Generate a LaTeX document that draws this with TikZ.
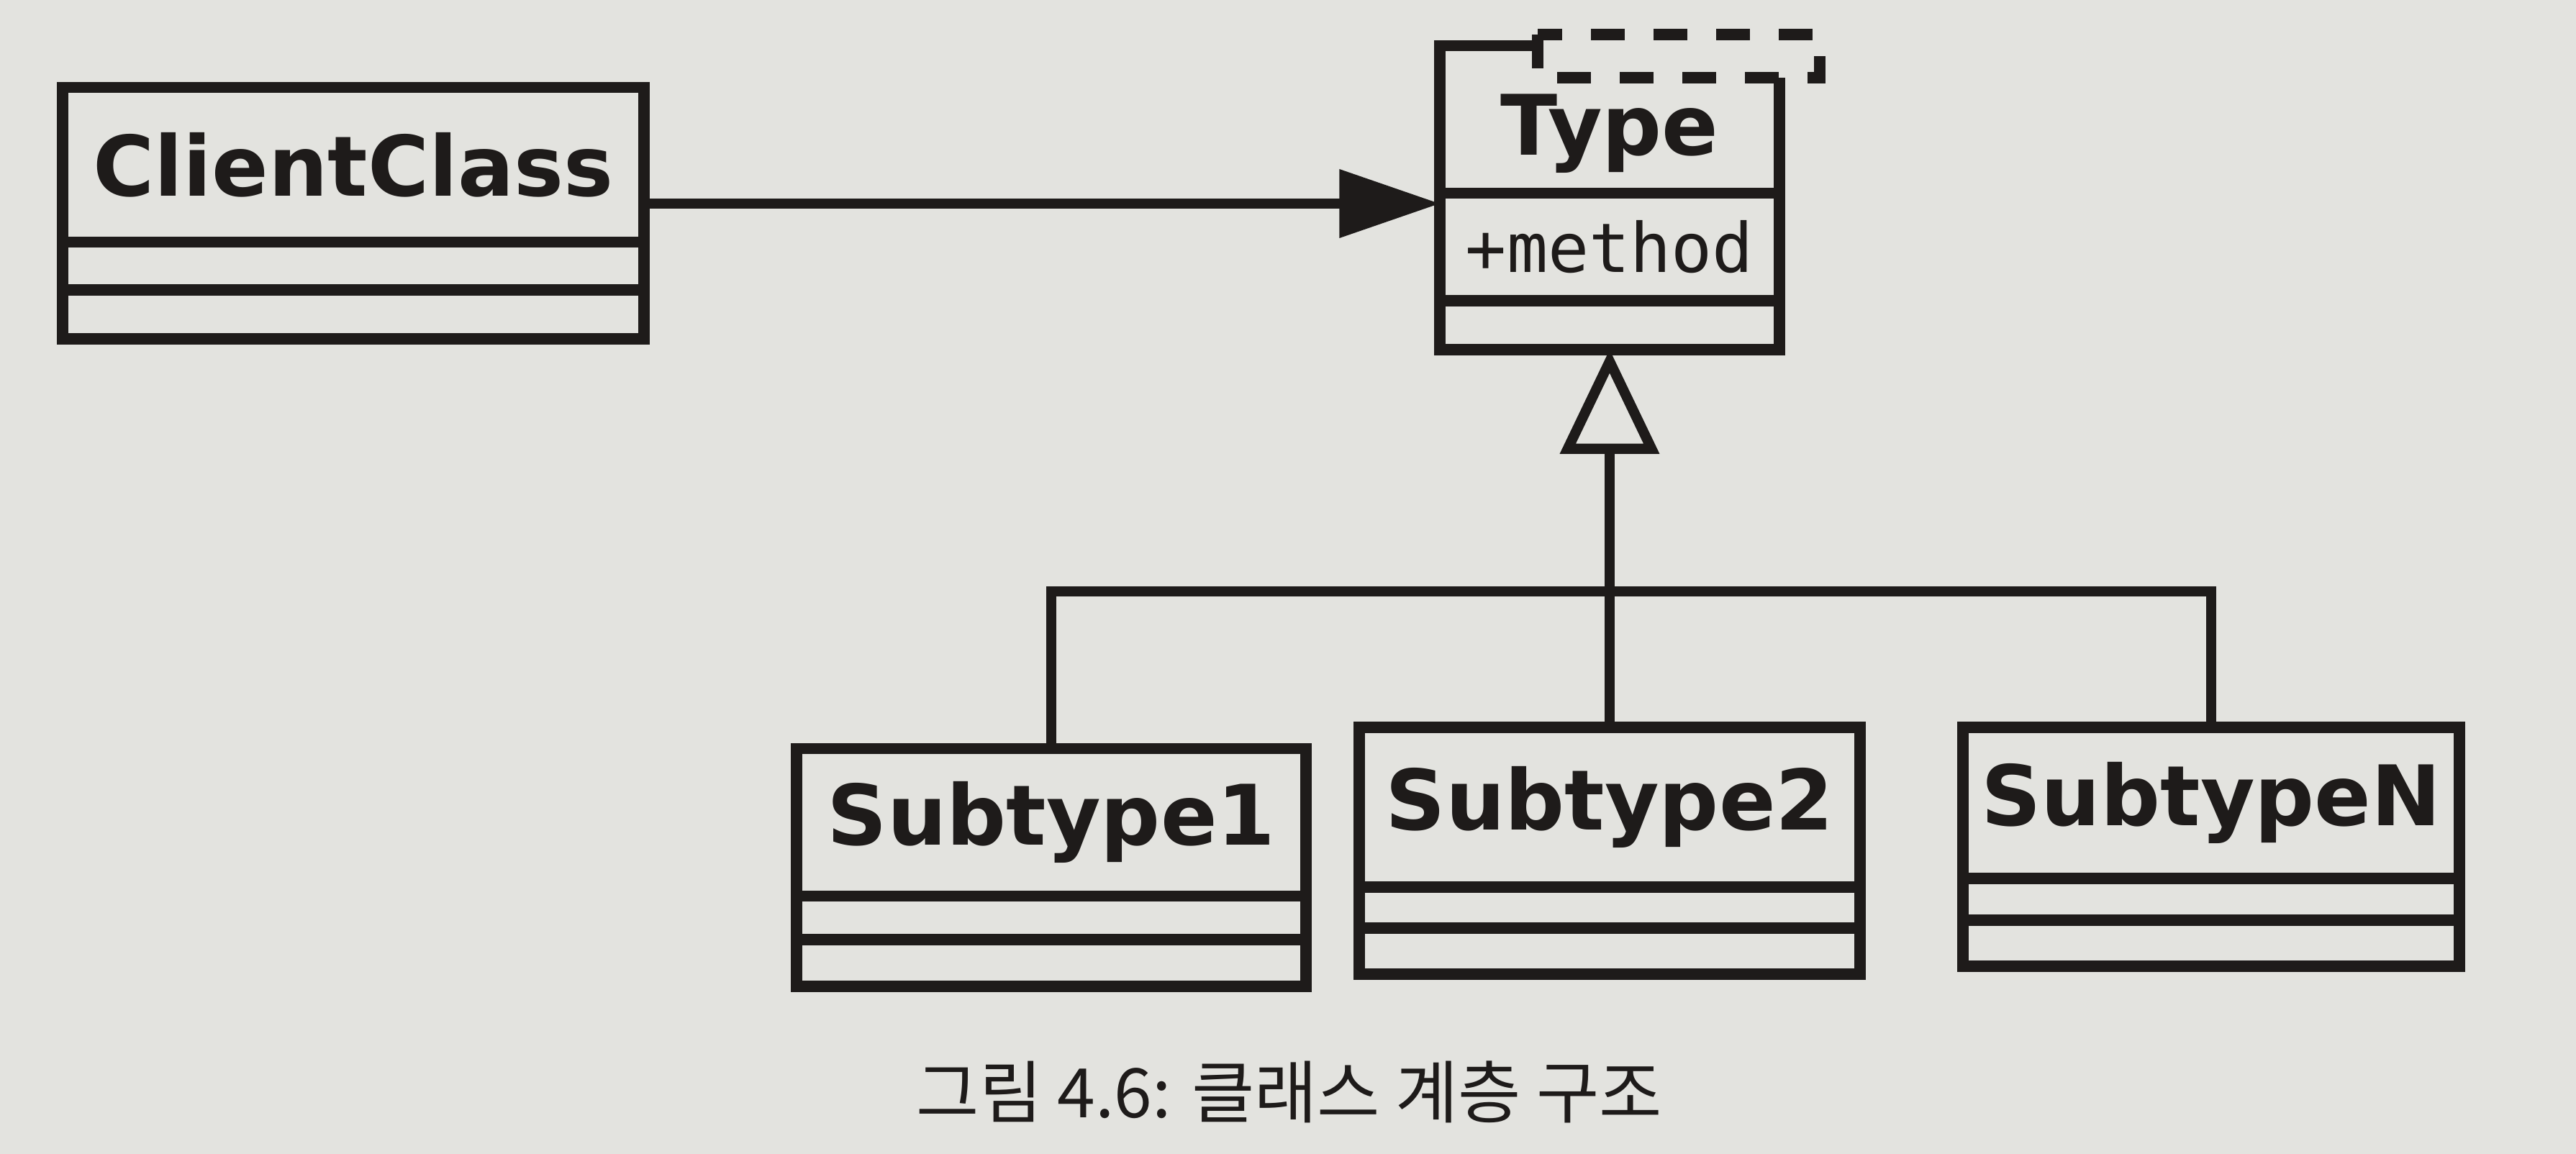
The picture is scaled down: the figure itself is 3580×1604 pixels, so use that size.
\documentclass[tikz,border=0pt]{standalone}
\usepackage{fontspec}
\setmainfont{DejaVu Sans}
\setmonofont{DejaVu Sans Mono}
\newfontfamily\cjk{Noto Sans CJK KR}
\usetikzlibrary{arrows.meta}
\definecolor{paper}{HTML}{E3E3DF}
\definecolor{ink}{HTML}{1E1B1A}

\begin{document}
\begin{tikzpicture}[x=0.01cm, y=-0.01cm]
      \tikzset{namebox/.style = {shape=rectangle, draw=ink, fill=paper, line width=4.5pt, inner sep=0pt, outer sep=0pt, text=ink, font=\bfseries\fontsize{33}{36}\selectfont}}
      \tikzset{partbox/.style = {shape=rectangle, draw=ink, fill=paper, line width=4.5pt, inner sep=0pt, outer sep=0pt, text=ink, anchor=north}}
      \tikzset{edge/.style = {draw=ink, line width=4pt}}
      \useasboundingbox (0,0) rectangle (3580,1604);
      \fill[paper] (0,0) rectangle (3580,1604);

      % client
      \node[namebox, minimum width=8.08cm, minimum height=2.15cm] (c) at (491,229) {ClientClass};
      \node[partbox, minimum width=8.08cm, minimum height=0.66cm] (c1) at (c.south) {};
      \node[partbox, minimum width=8.08cm, minimum height=0.68cm] (c2) at (c1.south) {};

      % type with template box
      \node[namebox, minimum width=4.71cm, minimum height=2.05cm, text height=35pt] (t) at (2237,166) {Type};
      \node[partbox, minimum width=4.71cm, minimum height=1.49cm, font=\ttfamily\fontsize{27}{30}\selectfont] (t1) at (t.south) {+method};
      \node[partbox, minimum width=4.71cm, minimum height=0.68cm] (t2) at (t1.south) {};
      \draw[draw=ink, line width=4.5pt, fill=paper, dash pattern=on 0.47cm off 0.4cm] (2137,48) rectangle (2529,108);

      % subtypes
      \node[namebox, minimum width=7.08cm, minimum height=2.05cm] (a) at (1461,1143) {Subtype1};
      \node[partbox, minimum width=7.08cm, minimum height=0.6cm] (a1) at (a.south) {};
      \node[partbox, minimum width=7.08cm, minimum height=0.65cm] (a2) at (a1.south) {};

      \node[namebox, minimum width=6.95cm, minimum height=2.22cm] (b) at (2237,1122) {Subtype2};
      \node[partbox, minimum width=6.95cm, minimum height=0.57cm] (b1) at (b.south) {};
      \node[partbox, minimum width=6.95cm, minimum height=0.64cm] (b2) at (b1.south) {};

      \node[namebox, minimum width=6.9cm, minimum height=2.1cm] (n) at (3073,1116) {SubtypeN};
      \node[partbox, minimum width=6.9cm, minimum height=0.58cm] (n1) at (n.south) {};
      \node[partbox, minimum width=6.9cm, minimum height=0.64cm] (n2) at (n1.south) {};

      \coordinate (j) at (2237,822);

      \draw[edge, -{Triangle[length=1.4cm, width=0.92cm]}] (c.east |- 0,283) -- (t1.north west |- 0,283);
      \draw[edge] (a.north) |- (j) -| (n.north);
      \draw[edge] (b.north) -- (j);
      \draw[edge, -{Triangle[open, length=1.45cm, width=1.35cm]}] (j) -- (t2.south);

      \node[text=ink, font=\cjk\fontsize{27}{30}\selectfont] (cap) at (1792,1518) {그림 4.6: 클래스 계층 구조};
    \end{tikzpicture}
\end{document}
